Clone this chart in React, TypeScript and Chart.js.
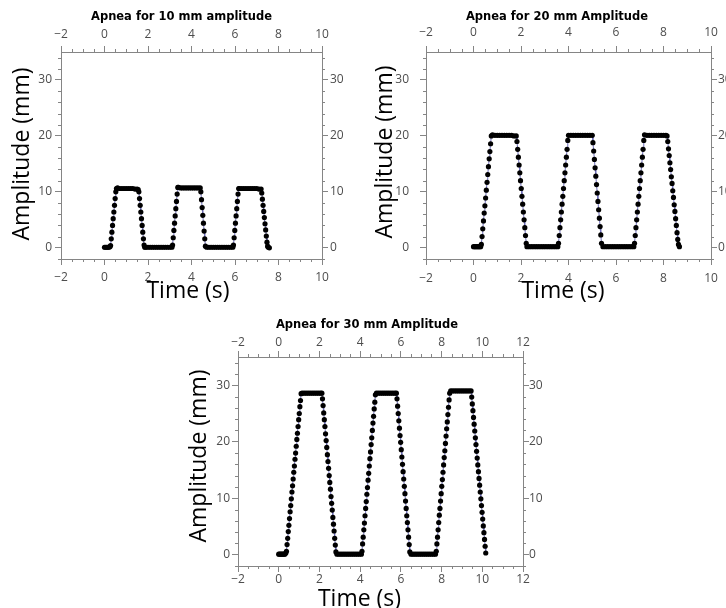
import React, { useEffect, useRef } from 'react';
import { Chart, registerables } from 'chart.js';

Chart.register(...registerables);

// ---------------- DATA ----------------
const chartTitles = ['Apnea for 10 mm amplitude', 'Apnea for 20 mm Amplitude', 'Apnea for 30 mm Amplitude'];
const xAxisTitle = 'Time (s)';
const yAxisTitle = 'Amplitude (mm)';

const xTicksA = [-2, 0, 2, 4, 6, 8, 10];
const xTicksB = [-2, 0, 2, 4, 6, 8, 10, 12];
const yTicks = [0, 10, 20, 30];

const time10 = [
  0.00, 0.05, 0.10, 0.15, 0.20, 0.25,
  0.28, 0.31, 0.34, 0.37, 0.40, 0.43, 0.46, 0.49, 0.52, 0.55,
  0.60, 0.70, 0.80, 0.90, 1.00, 1.10, 1.20, 1.30, 1.40, 1.50, 1.55,
  1.58, 1.61, 1.64, 1.67, 1.70, 1.73, 1.76, 1.79, 1.82, 1.85,
  1.90, 2.00, 2.10, 2.20, 2.30, 2.40, 2.50, 2.60, 2.70, 2.80, 2.90, 3.00, 3.10,
  3.13, 3.16, 3.19, 3.22, 3.25, 3.28, 3.31, 3.34, 3.37,
  3.40, 3.50, 3.60, 3.70, 3.80, 3.90, 4.00, 4.10, 4.20, 4.30, 4.40,
  4.43, 4.46, 4.49, 4.52, 4.55, 4.58, 4.61, 4.64,
  4.70, 4.80, 4.90, 5.00, 5.10, 5.20, 5.30, 5.40, 5.50, 5.60, 5.70, 5.80, 5.90,
  5.93, 5.96, 5.99, 6.02, 6.05, 6.08, 6.11, 6.14, 6.17,
  6.20, 6.30, 6.40, 6.50, 6.60, 6.70, 6.80, 6.90, 7.00, 7.10, 7.20,
  7.23, 7.26, 7.29, 7.32, 7.35, 7.38, 7.41, 7.44, 7.47, 7.50, 7.53, 7.58,
];
const amp10 = [
  0.1, 0.1, 0.1, 0.1, 0.1, 0.2,
  0.4, 1.6, 2.8, 4.0, 5.2, 6.4, 7.6, 8.8, 10.0, 10.6,
  10.7, 10.6, 10.6, 10.6, 10.6, 10.6, 10.6, 10.6, 10.5, 10.5, 10.4,
  10.0, 8.8, 7.6, 6.4, 5.2, 4.0, 2.8, 1.6, 0.5, 0.1,
  0.1, 0.1, 0.1, 0.1, 0.1, 0.1, 0.1, 0.1, 0.1, 0.1, 0.1, 0.1, 0.1,
  0.5, 1.8, 3.1, 4.4, 5.7, 7.0, 8.3, 9.6, 10.8,
  10.8, 10.7, 10.7, 10.7, 10.7, 10.7, 10.7, 10.7, 10.7, 10.7, 10.7,
  10.0, 8.6, 7.2, 5.8, 4.4, 3.0, 1.6, 0.3,
  0.1, 0.1, 0.1, 0.1, 0.1, 0.1, 0.1, 0.1, 0.1, 0.1, 0.1, 0.1, 0.1,
  0.5, 1.8, 3.1, 4.4, 5.7, 7.0, 8.3, 9.6, 10.6,
  10.6, 10.6, 10.6, 10.6, 10.6, 10.6, 10.6, 10.6, 10.6, 10.5, 10.5,
  9.8, 8.7, 7.6, 6.5, 5.4, 4.3, 3.2, 2.1, 1.0, 0.3, 0.1, 0.0,
];

const time20 = [
  0.00, 0.05, 0.10, 0.15, 0.20, 0.25, 0.30,
  0.33, 0.36, 0.39, 0.42, 0.45, 0.48, 0.51, 0.54, 0.57, 0.60, 0.63, 0.66, 0.69, 0.72, 0.75,
  0.80, 0.90, 1.00, 1.10, 1.20, 1.30, 1.40, 1.50, 1.60, 1.70, 1.80,
  1.83, 1.86, 1.89, 1.92, 1.95, 1.98, 2.01, 2.04, 2.07, 2.10, 2.13, 2.16, 2.19, 2.22,
  2.25, 2.35, 2.45, 2.55, 2.65, 2.75, 2.85, 2.95, 3.05, 3.15, 3.25, 3.35, 3.45, 3.55,
  3.58, 3.61, 3.64, 3.67, 3.70, 3.73, 3.76, 3.79, 3.82, 3.85, 3.88, 3.91, 3.94, 3.97,
  4.00, 4.10, 4.20, 4.30, 4.40, 4.50, 4.60, 4.70, 4.80, 4.90, 5.00,
  5.03, 5.06, 5.09, 5.12, 5.15, 5.18, 5.21, 5.24, 5.27, 5.30, 5.33, 5.36, 5.39,
  5.45, 5.55, 5.65, 5.75, 5.85, 5.95, 6.05, 6.15, 6.25, 6.35, 6.45, 6.55, 6.65, 6.75,
  6.78, 6.81, 6.84, 6.87, 6.90, 6.93, 6.96, 6.99, 7.02, 7.05, 7.08, 7.11, 7.14, 7.17,
  7.20, 7.30, 7.40, 7.50, 7.60, 7.70, 7.80, 7.90, 8.00, 8.10, 8.15,
  8.18, 8.21, 8.24, 8.27, 8.30, 8.33, 8.36, 8.39, 8.42, 8.45, 8.48, 8.51, 8.54, 8.57, 8.60, 8.63, 8.67,
];
const amp20 = [
  0.2, 0.2, 0.2, 0.2, 0.2, 0.2, 0.2,
  0.6, 2.0, 3.4, 4.8, 6.2, 7.5, 8.9, 10.3, 11.7, 13.1, 14.5, 15.9, 17.2, 18.6, 20.0,
  20.2, 20.1, 20.1, 20.1, 20.1, 20.1, 20.1, 20.1, 20.1, 20.0, 20.0,
  19.0, 17.6, 16.2, 14.8, 13.4, 12.0, 10.6, 9.2, 7.8, 6.4, 5.0, 3.6, 2.2, 0.8,
  0.2, 0.2, 0.2, 0.2, 0.2, 0.2, 0.2, 0.2, 0.2, 0.2, 0.2, 0.2, 0.2, 0.2,
  0.8, 2.2, 3.6, 5.0, 6.4, 7.8, 9.2, 10.6, 12.0, 13.4, 14.8, 16.2, 17.6, 19.2,
  20.1, 20.1, 20.1, 20.1, 20.1, 20.1, 20.1, 20.1, 20.1, 20.1, 20.1,
  18.8, 17.3, 15.8, 14.3, 12.8, 11.3, 9.8, 8.3, 6.8, 5.3, 3.8, 2.3, 0.8,
  0.2, 0.2, 0.2, 0.2, 0.2, 0.2, 0.2, 0.2, 0.2, 0.2, 0.2, 0.2, 0.2, 0.2,
  0.8, 2.2, 3.6, 5.0, 6.4, 7.8, 9.2, 10.6, 12.0, 13.4, 14.8, 16.2, 17.6, 19.2,
  20.2, 20.1, 20.1, 20.1, 20.1, 20.1, 20.1, 20.1, 20.1, 20.1, 20.0,
  19.0, 17.7, 16.5, 15.2, 14.0, 12.7, 11.5, 10.2, 9.0, 7.7, 6.5, 5.2, 4.0, 2.7, 1.5, 0.6, 0.2,
];

const time30 = [
  0.00, 0.05, 0.10, 0.15, 0.20, 0.25, 0.30, 0.35,
  0.38, 0.41, 0.44, 0.47, 0.50, 0.53, 0.56, 0.59, 0.62, 0.65, 0.68, 0.71, 0.74,
  0.77, 0.80, 0.83, 0.86, 0.89, 0.92, 0.95, 0.98, 1.01, 1.04, 1.07, 1.10,
  1.15, 1.25, 1.35, 1.45, 1.55, 1.65, 1.75, 1.85, 1.95, 2.05, 2.12,
  2.15, 2.18, 2.21, 2.24, 2.27, 2.30, 2.33, 2.36, 2.39, 2.42, 2.45, 2.48,
  2.51, 2.54, 2.57, 2.60, 2.63, 2.66, 2.69, 2.72, 2.75, 2.78, 2.81,
  2.86, 2.96, 3.06, 3.16, 3.26, 3.36, 3.46, 3.56, 3.66, 3.76, 3.86, 3.96, 4.06,
  4.09, 4.12, 4.15, 4.18, 4.21, 4.24, 4.27, 4.30, 4.33, 4.36, 4.39, 4.42,
  4.45, 4.48, 4.51, 4.54, 4.57, 4.60, 4.63, 4.66, 4.69, 4.72, 4.75,
  4.80, 4.90, 5.00, 5.10, 5.20, 5.30, 5.40, 5.50, 5.60, 5.70, 5.78,
  5.81, 5.84, 5.87, 5.90, 5.93, 5.96, 5.99, 6.02, 6.05, 6.08, 6.11,
  6.14, 6.17, 6.20, 6.23, 6.26, 6.29, 6.32, 6.35, 6.38, 6.41, 6.44,
  6.50, 6.60, 6.70, 6.80, 6.90, 7.00, 7.10, 7.20, 7.30, 7.40, 7.50, 7.60, 7.70,
  7.74, 7.77, 7.80, 7.83, 7.86, 7.89, 7.92, 7.95, 7.98, 8.01, 8.04, 8.07,
  8.10, 8.13, 8.16, 8.19, 8.22, 8.25, 8.28, 8.31, 8.34, 8.37, 8.40,
  8.45, 8.55, 8.65, 8.75, 8.85, 8.95, 9.05, 9.15, 9.25, 9.35, 9.45,
  9.48, 9.51, 9.54, 9.57, 9.60, 9.63, 9.66, 9.69, 9.72, 9.75, 9.78, 9.81,
  9.84, 9.87, 9.90, 9.93, 9.96, 9.99, 10.02, 10.05, 10.08, 10.11, 10.14, 10.17,
];
const amp30 = [
  0.1, 0.1, 0.1, 0.1, 0.1, 0.1, 0.1, 0.3,
  0.6, 1.8, 2.9, 4.1, 5.2, 6.4, 7.6, 8.7, 9.9, 11.1, 12.2, 13.4, 14.6,
  15.7, 16.9, 18.0, 19.2, 20.4, 21.5, 22.7, 23.9, 25.0, 26.2, 27.3, 28.5,
  28.6, 28.6, 28.6, 28.6, 28.6, 28.6, 28.6, 28.6, 28.6, 28.6, 28.6,
  27.6, 26.4, 25.1, 23.9, 22.7, 21.4, 20.2, 19.0, 17.7, 16.5, 15.3, 14.0,
  12.8, 11.6, 10.3, 9.1, 7.9, 6.6, 5.4, 4.2, 2.9, 1.7, 0.5,
  0.1, 0.1, 0.1, 0.1, 0.1, 0.1, 0.1, 0.1, 0.1, 0.1, 0.1, 0.1, 0.1,
  0.6, 1.9, 3.1, 4.4, 5.6, 6.9, 8.2, 9.4, 10.7, 11.9, 13.2, 14.4,
  15.7, 17.0, 18.2, 19.5, 20.7, 22.0, 23.3, 24.5, 25.8, 27.0, 28.3,
  28.6, 28.6, 28.6, 28.6, 28.6, 28.6, 28.6, 28.6, 28.6, 28.6, 28.6,
  27.6, 26.3, 25.0, 23.7, 22.4, 21.1, 19.9, 18.6, 17.3, 16.0, 14.7,
  13.4, 12.1, 10.8, 9.5, 8.2, 6.9, 5.7, 4.4, 3.1, 1.8, 0.5,
  0.1, 0.1, 0.1, 0.1, 0.1, 0.1, 0.1, 0.1, 0.1, 0.1, 0.1, 0.1, 0.1,
  0.6, 1.9, 3.1, 4.4, 5.7, 7.0, 8.2, 9.5, 10.8, 12.1, 13.3, 14.6,
  15.9, 17.2, 18.4, 19.7, 21.0, 22.3, 23.5, 24.8, 26.1, 27.4, 28.6,
  29.0, 29.0, 29.0, 29.0, 29.0, 29.0, 29.0, 29.0, 29.0, 29.0, 29.0,
  27.9, 26.7, 25.5, 24.3, 23.1, 21.9, 20.7, 19.5, 18.3, 17.1, 15.9, 14.7,
  13.5, 12.3, 11.1, 9.9, 8.7, 7.5, 6.3, 5.1, 3.9, 2.7, 1.5, 0.3,
];

// ---------------- STYLE / LAYOUT ----------------
const AXIS = '#858585';
const TICK_FONT = "'Open Sans', 'Noto Sans', sans-serif";
const TITLE_FONT = "'DejaVu Sans', Verdana, sans-serif";
const AXIS_TITLE_FONT = "'Open Sans', 'Noto Sans', sans-serif";

type Panel = {
  left: number; top: number; width: number; height: number;
  area: { l: number; r: number; t: number; b: number };
  pad: { top: number; bottom: number; left: number; right: number };
  xdx: number; xdy: number; yx: number; ydy: number;
  xMax: number; xTicks: number[];
  times: number[]; amps: number[]; title: string;
};

const panels: Panel[] = [
  {
    left: 0, top: 0, width: 363, height: 305,
    area: { l: 61, r: 322, t: 52, b: 259 },
    pad: { top: 4, bottom: 5, left: 3, right: 2 },
    xdx: -3.5, xdy: 32, yx: 22.5, ydy: -1.5,
    xMax: 10, xTicks: xTicksA, times: time10, amps: amp10, title: chartTitles[0],
  },
  {
    left: 363, top: 0, width: 388, height: 305,
    area: { l: 63, r: 348, t: 52, b: 259 },
    pad: { top: 6, bottom: 6, left: 11, right: 1 },
    xdx: -5.5, xdy: 32, yx: 22.5, ydy: -3.5,
    xMax: 10, xTicks: xTicksA, times: time20, amps: amp20, title: chartTitles[1],
  },
  {
    left: 180, top: 308, width: 374, height: 310,
    area: { l: 58, r: 343, t: 49, b: 258 },
    pad: { top: 1, bottom: 0, left: 2, right: 0 },
    xdx: -21, xdy: 33, yx: 19.5, ydy: -5.5,
    xMax: 12, xTicks: xTicksB, times: time30, amps: amp30, title: chartTitles[2],
  },
];

const fmt = (v: any) => {
  const n = Number(v);
  return n < 0 ? '\u2212' + Math.abs(n) : String(n);
};

const decorPlugin = {
  id: 'decor',
  afterDraw(chart: any, _args: any, o: any) {
    const { ctx, chartArea: a, scales } = chart;
    ctx.save();
    ctx.strokeStyle = AXIS;
    ctx.lineWidth = 1;
    ctx.beginPath();
    const sx = scales.x;
    const nX = Math.round((sx.max - sx.min) / o.xMinor);
    for (let i = 0; i <= nX; i++) {
      const v = sx.min + i * o.xMinor;
      if (Math.abs(v / o.xMajor - Math.round(v / o.xMajor)) < 1e-6) continue;
      const px = Math.round(sx.getPixelForValue(v)) + 0.5;
      ctx.moveTo(px, a.bottom);
      ctx.lineTo(px, a.bottom + o.minorLen);
      ctx.moveTo(px, a.top);
      ctx.lineTo(px, a.top - o.minorLen);
    }
    const sy = scales.y;
    const start = Math.ceil(sy.min / o.yMinor);
    const end = Math.floor(sy.max / o.yMinor);
    for (let k = start; k <= end; k++) {
      const v = k * o.yMinor;
      if (v % o.yMajor === 0) continue;
      const py = Math.round(sy.getPixelForValue(v)) + 0.5;
      ctx.moveTo(a.left, py);
      ctx.lineTo(a.left - o.minorLen, py);
      ctx.moveTo(a.right, py);
      ctx.lineTo(a.right + o.minorLen, py);
    }
    ctx.stroke();

    ctx.fillStyle = '#000';
    ctx.font = `23px ${AXIS_TITLE_FONT}`;
    ctx.textAlign = 'center';
    ctx.textBaseline = 'middle';
    ctx.fillText(o.xTitle, (a.left + a.right) / 2 + o.xdx, a.bottom + o.xdy);
    ctx.translate(o.yx, (a.top + a.bottom) / 2 + o.ydy);
    ctx.rotate(-Math.PI / 2);
    ctx.fillText(o.yTitle, 0, 0);
    ctx.restore();
  },
};

function axis(position: string, pad: number, ticksArr: number[], min: number, max: number, size: number, horizontal: boolean) {
  return {
    type: 'linear',
    position,
    min,
    max,
    afterBuildTicks: (s: any) => {
      s.ticks = ticksArr.map((v) => ({ value: v }));
    },
    afterFit: (s: any) => {
      if (horizontal) s.height = size;
      else s.width = size;
    },
    ticks: {
      font: { family: TICK_FONT, size: 12 },
      color: '#4d4d4d',
      padding: pad,
      autoSkip: false,
      maxRotation: 0,
      minRotation: 0,
      callback: fmt,
    },
    grid: {
      display: true,
      drawOnChartArea: false,
      drawTicks: true,
      tickLength: 6,
      color: AXIS,
      tickColor: AXIS,
      lineWidth: 1,
    },
    border: { display: true, color: AXIS, width: 1 },
  };
}

function PanelChart({ p }: { p: Panel }) {
  const ref = useRef<HTMLCanvasElement | null>(null);
  useEffect(() => {
    if (!ref.current) return;
    const titleH = 24;
    const chart = new Chart(ref.current, {
      type: 'line',
      data: {
        datasets: [
          {
            data: p.times.map((t, i) => ({ x: t, y: p.amps[i] })),
            borderColor: '#6f6fb8',
            borderWidth: 1,
            pointRadius: 2.6,
            pointBackgroundColor: '#000000',
            pointBorderWidth: 0,
            pointStyle: 'circle',
            tension: 0,
            fill: false,
          },
        ],
      },
      options: {
        animation: false,
        responsive: false,
        events: [],
        layout: { padding: 0 },
        scales: {
          x: axis('bottom', p.pad.bottom, p.xTicks, -2, p.xMax, p.height - p.area.b, true),
          x2: axis('top', p.pad.top, p.xTicks, -2, p.xMax, p.area.t - titleH, true),
          y: axis('left', p.pad.left, yTicks, -2, 35, p.area.l, false),
          y2: axis('right', p.pad.right, yTicks, -2, 35, p.width - p.area.r, false),
        } as any,
        plugins: {
          legend: { display: false },
          tooltip: { enabled: false },
          title: {
            display: true,
            text: p.title,
            color: '#000000',
            font: { family: TITLE_FONT, size: 11.5, weight: 'bold', lineHeight: '14px' } as any,
            padding: { top: 10, bottom: 0 },
          },
          decor: {
            xMinor: 0.5, xMajor: 2, yMinor: 2, yMajor: 10, minorLen: 3,
            xTitle: xAxisTitle, yTitle: yAxisTitle,
            xdx: p.xdx, xdy: p.xdy, yx: p.yx, ydy: p.ydy,
          },
        } as any,
      },
      plugins: [decorPlugin as any],
    } as any);
    return () => chart.destroy();
  }, [p]);
  return (
    <div style={{ position: 'absolute', left: p.left, top: p.top, width: p.width, height: p.height }}>
      <canvas ref={ref} width={p.width} height={p.height} style={{ width: p.width, height: p.height, display: 'block' }} />
    </div>
  );
}

export default function App() {
  return (
    <div style={{ position: 'fixed', left: 0, top: 0, width: 726, height: 608, overflow: 'hidden', background: '#ffffff' }}>
      {panels.map((p, i) => (
        <PanelChart key={i} p={p} />
      ))}
    </div>
  );
}
